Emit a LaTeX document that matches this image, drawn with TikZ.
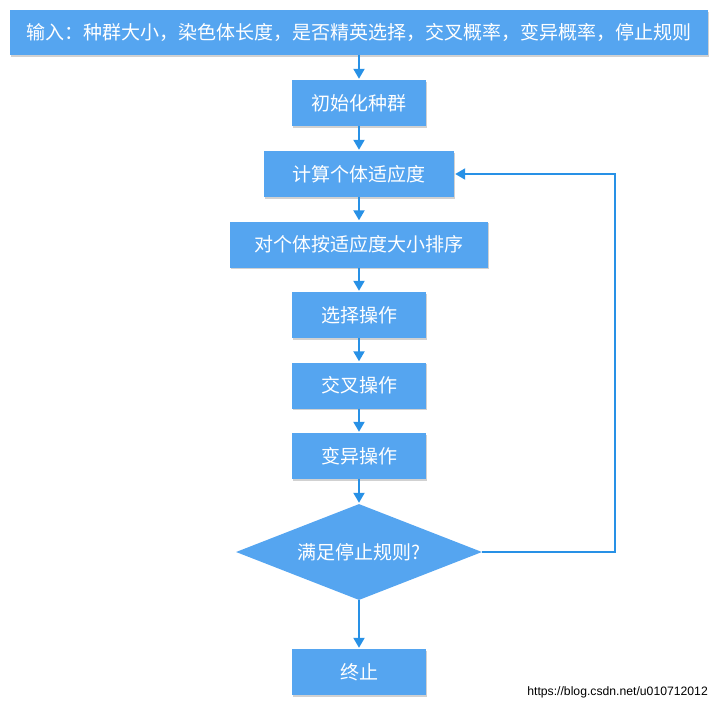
\documentclass[tikz,border=0pt]{standalone}
\usepackage{fontspec}
\setmainfont{Noto Sans CJK SC}
\newfontfamily\urlfont{Liberation Sans}
\usepackage{tikz}
\usetikzlibrary{shapes.geometric,arrows.meta,shadows}
\definecolor{boxblue}{RGB}{85,165,240}
\definecolor{flowblue}{RGB}{40,145,230}

\tikzset{
  stepbox/.style={rectangle, fill=boxblue, text=white, inner sep=0pt,
    minimum width=134pt, minimum height=46pt,
    font=\fontsize{19}{22}\selectfont,
    drop shadow={shadow xshift=0.6pt, shadow yshift=-1.6pt, opacity=0.3, fill=black!60}},
  checkbox/.style={diamond, fill=boxblue, text=white, inner sep=0pt, aspect=2.56,
    minimum width=246pt, minimum height=96pt,
    font=\fontsize{19}{22}\selectfont},
  flow/.style={flowblue, line width=2pt, -{Triangle[width=11pt,length=10pt]}, shorten >=1pt},
}

\begin{document}
\begin{tikzpicture}[x=1pt, y=-1pt]
    \useasboundingbox (0,0) rectangle (720,710);

    % Input and steps
    \node[stepbox, minimum width=698pt, minimum height=45pt] (input) at (359,32.5)
        {输入：种群大小，染色体长度，是否精英选择，交叉概率，变异概率，停止规则};
    \node[stepbox] (init) at (359,103) {初始化种群};
    \node[stepbox, minimum width=190pt] (fitness) at (359,174) {计算个体适应度};
    \node[stepbox, minimum width=258pt] (sort) at (359,244.5) {对个体按适应度大小排序};
    \node[stepbox] (select) at (359,315) {选择操作};
    \node[stepbox] (cross) at (359,385.5) {交叉操作};
    \node[stepbox] (mutate) at (359,456) {变异操作};

    % Stop test
    \node[checkbox] (check) at (359,552) {满足停止规则?};
    \node[stepbox] (stop) at (359,672) {终止};

    % Arrows down
    \draw[flow] (input) -- (init);
    \draw[flow] (init) -- (fitness);
    \draw[flow] (fitness) -- (sort);
    \draw[flow] (sort) -- (select);
    \draw[flow] (select) -- (cross);
    \draw[flow] (cross) -- (mutate);
    \draw[flow] (mutate) -- (check);
    \draw[flow] (check) -- (stop);

    % Loop back
    \coordinate (loop) at (615,552);
    \draw[flow] (check.east) -- (loop) |- (fitness.east);

    \node[anchor=east, inner sep=0pt, font=\urlfont\fontsize{12.2}{14}\selectfont] (url) at (708,692)
        {https://blog.csdn.net/u010712012};
\end{tikzpicture}
\end{document}
